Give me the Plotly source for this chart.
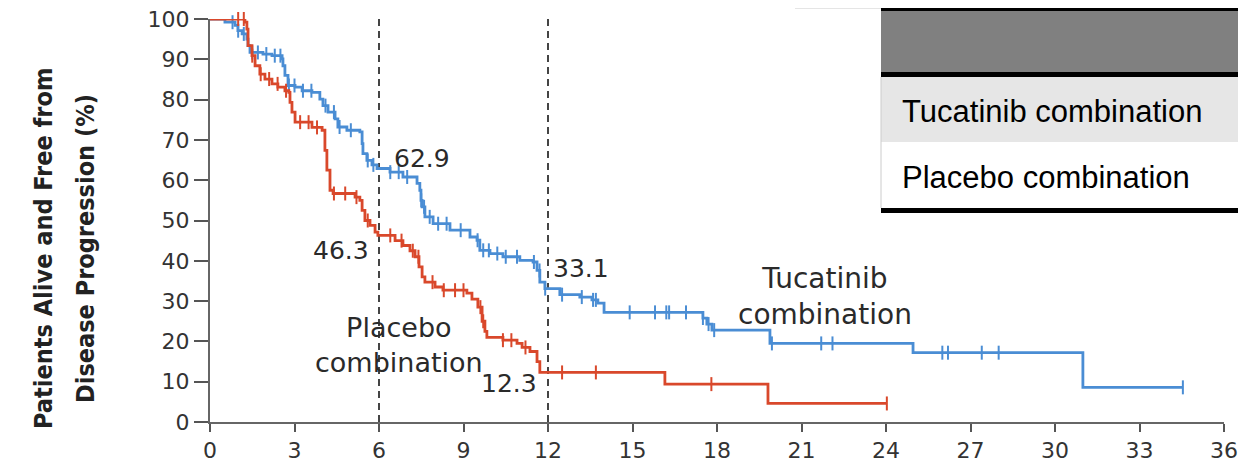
import numpy as np
import plotly.graph_objects as go

# ---------------- data ----------------
x_ticks = [0, 3, 6, 9, 12, 15, 18, 21, 24, 27, 30, 33, 36]
y_ticks = [0, 10, 20, 30, 40, 50, 60, 70, 80, 90, 100]

tuc_time = [0, 0.53, 0.89, 0.99, 1.14, 1.31, 1.35, 1.42, 1.88, 2.2,
            2.56, 2.59, 2.66, 2.77, 3.02, 3.27, 3.62, 3.9, 4.01, 4.19,
            4.44, 4.54, 4.86, 5.32, 5.4, 5.43, 5.57, 5.75, 5.93, 6.39,
            6.85, 7.35, 7.45, 7.49, 7.53, 7.63, 7.92, 8.52, 9.23, 9.48,
            9.58, 9.94, 10.4, 11.0, 11.47, 11.61, 11.71, 11.89, 12.42, 13.13,
            13.56, 13.77, 13.99, 17.5, 17.64, 17.82, 19.88, 24.96, 30.99, 34.54]
tuc_surv = [100, 99.2, 98.4, 97.1, 96.3, 95.0, 93.4, 91.7, 91.3, 90.9,
            90.1, 88.4, 86.0, 83.5, 83.1, 82.2, 81.8, 80.1, 78.5, 76.9,
            75.2, 73.2, 72.4, 72.0, 69.1, 66.6, 64.9, 63.8, 62.9, 62.0,
            60.8, 59.2, 57.5, 55.0, 53.4, 50.9, 49.2, 47.6, 45.9, 45.1,
            42.6, 41.8, 41.0, 40.1, 39.7, 37.6, 34.7, 33.1, 31.6, 31.0,
            30.3, 29.5, 27.2, 25.8, 24.3, 22.8, 19.5, 17.2, 8.6, 8.6]
tuc_censor = [0.8, 1.0, 1.2, 1.5, 1.7, 2.0, 2.3, 2.5, 2.8, 3.0, 3.3, 3.6,
              4.1, 4.4, 4.6, 5.0, 5.6, 5.8, 6.4, 6.7, 7.0, 7.5, 7.6, 7.8,
              8.1, 8.4, 8.9, 9.5, 9.7, 9.9, 10.2, 10.5, 10.9, 11.5, 11.7,
              11.9, 12.5, 13.2, 13.6, 13.7, 14.9, 15.8, 16.2, 16.3, 16.9,
              17.5, 17.7, 17.9, 19.95, 21.7, 22.1, 26.0, 26.2, 27.4, 28.0, 34.54]

pla_time = [0, 1.24, 1.31, 1.35, 1.49, 1.6, 1.77, 1.95, 2.2, 2.41,
            2.66, 2.8, 2.84, 2.91, 3.02, 3.62, 3.98, 4.08, 4.15, 4.26,
            4.37, 5.15, 5.32, 5.4, 5.5, 5.68, 5.86, 5.96, 6.57, 6.85,
            7.1, 7.28, 7.42, 7.53, 7.63, 7.99, 8.27, 9.12, 9.3, 9.51,
            9.66, 9.76, 9.83, 10.4, 10.9, 11.08, 11.36, 11.61, 11.71, 16.15,
            19.81, 24.03]
pla_surv = [100, 99.2, 97.5, 93.4, 90.9, 88.4, 86.3, 85.1, 83.9, 83.1,
            82.2, 81.8, 79.3, 76.9, 74.4, 73.1, 72.4, 67.4, 62.5, 57.5,
            56.7, 55.8, 55.0, 52.5, 50.0, 48.8, 47.1, 46.3, 45.0, 43.8,
            42.5, 41.0, 38.5, 36.0, 34.7, 33.5, 32.7, 32.0, 30.5, 28.5,
            25.0, 22.5, 21.0, 20.3, 19.5, 18.5, 17.5, 15.0, 12.3, 9.4,
            4.6, 4.6]
pla_censor = [1.0, 1.2, 1.5, 1.8, 2.1, 2.4, 2.7, 3.2, 3.5, 3.8, 4.4, 4.8,
              5.2, 5.6, 6.4, 6.8, 7.2, 7.4, 7.9, 8.3, 8.7, 9.0, 9.6, 9.7,
              10.4, 10.7, 11.2, 12.5, 13.7, 17.8, 24.03]

landmarks = [6, 12]
labels_pt = [("62.9", 6.46, 65.4, "left"), ("46.3", 5.72, 42.6, "right"),
             ("33.1", 12.1, 38.1, "left"), ("12.3", 11.68, 9.6, "right")]
arm_names = ["Tucatinib combination", "Placebo combination"]
ytitle_lines = ["Patients Alive and Free from", "Disease Progression (%)"]

BLUE = "#4a8dd4"
RED = "#d9482b"

def step_value(times, surv, c):
    i = np.searchsorted(np.array(times), c, side="right") - 1
    return surv[max(i, 0)]

fig = go.Figure()
for t, s, cens, col, name in [(tuc_time, tuc_surv, tuc_censor, BLUE, arm_names[0]),
                              (pla_time, pla_surv, pla_censor, RED, arm_names[1])]:
    fig.add_trace(go.Scatter(x=t, y=s, mode="lines", line=dict(color=col, width=2.8, shape="hv"),
                             name=name, showlegend=False, cliponaxis=False))
    fig.add_trace(go.Scatter(x=cens, y=[step_value(t, s, c) for c in cens], mode="markers",
                             marker=dict(symbol="line-ns-open", size=10, color=col,
                                         line=dict(color=col, width=2)),
                             showlegend=False, cliponaxis=False))

# landmark dashed lines
for lm in landmarks:
    fig.add_shape(type="line", xref="x", yref="y", x0=lm, x1=lm, y0=0, y1=100,
                  line=dict(color="#444444", width=2, dash="7px,5px"), layer="below")

ann_font = dict(family="DejaVu Sans", size=25, color="#2a2a2a")
for txt, xv, yv, anc in labels_pt:
    fig.add_annotation(x=xv, y=yv, xref="x", yref="y", text=txt, showarrow=False,
                       xanchor=anc, yanchor="middle", font=ann_font)
lab_font = dict(family="DejaVu Sans", size=27, color="#2a2a2a")
fig.add_annotation(x=6.72, y=19.2, xref="x", yref="y", text="Placebo<br>combination",
                   showarrow=False, xanchor="center", yanchor="middle", font=lab_font)
fig.add_annotation(x=21.83, y=31.2, xref="x", yref="y", text="Tucatinib<br>combination",
                   showarrow=False, xanchor="center", yanchor="middle", font=dict(lab_font, size=28))

# ---------- layout geometry (page has an 8px body margin) ----------
OFF = 8
W, H = 1246 - OFF, 465 - OFF
L, R, T, B = 210 - OFF, 1224 - OFF, 19 - OFF, 422 - OFF
def px(x):  # reference-picture pixel -> paper
    return (x - OFF - L) / (R - L)
def py(y):
    return (B - (y - OFF)) / (B - T)

# y-axis title (two rotated lines)
yt_font = dict(family="DejaVu Sans Condensed, DejaVu Sans, sans-serif",
               size=25, color="#222222", weight="bold")
for line_txt, xpix in zip(ytitle_lines, [43, 85]):
    fig.add_annotation(x=px(xpix), y=py(249), xref="paper", yref="paper", textangle=-90,
                       text=line_txt, showarrow=False, xanchor="center", yanchor="middle",
                       font=yt_font)

# table-like legend box (top right)
def rect(x0, y0, x1, y1, color):
    fig.add_shape(type="rect", xref="paper", yref="paper", x0=px(x0), x1=px(x1),
                  y0=py(y1), y1=py(y0), fillcolor=color, line=dict(width=0), layer="above")

rect(881, 10, 1250, 72, "#808080")
rect(881, 76, 1250, 142, "#e6e6e6")
rect(881, 142, 1250, 208, "#ffffff")
rect(881, 7, 1250, 11, "#000000")
rect(881, 72, 1250, 77, "#000000")
rect(881, 208, 1250, 213, "#000000")
fig.add_shape(type="line", xref="paper", yref="paper", x0=px(795), x1=px(881), y0=py(8), y1=py(8),
              line=dict(color="#cccccc", width=1))
fig.add_shape(type="line", xref="paper", yref="paper", x0=px(881), x1=px(881), y0=py(77), y1=py(208),
              line=dict(color="#cccccc", width=1))
tab_font = dict(family="Liberation Sans, Arial, sans-serif", size=31, color="#000000")
fig.add_annotation(x=px(900), y=py(111), xref="paper", yref="paper", text=arm_names[0],
                   showarrow=False, xanchor="left", yanchor="middle", font=tab_font)
fig.add_annotation(x=px(900), y=py(177), xref="paper", yref="paper", text=arm_names[1],
                   showarrow=False, xanchor="left", yanchor="middle", font=tab_font)

tick_font = dict(family="DejaVu Sans", size=22, color="#333333")
fig.update_layout(
    width=W, height=H,
    margin=dict(l=L, r=W - R, t=T, b=H - B, autoexpand=False),
    paper_bgcolor="white", plot_bgcolor="white",
    showlegend=False,
    xaxis=dict(range=[0, 36], tickvals=x_ticks, ticktext=[str(v) for v in x_ticks],
               showgrid=False, zeroline=False, showline=True, linecolor="#666666", linewidth=2,
               ticks="outside", ticklen=8, tickwidth=1.5, tickcolor="#555555",
               tickfont=tick_font, automargin=False, ticklabeloverflow="allow"),
    yaxis=dict(range=[0, 100], tickvals=y_ticks, ticktext=[str(v) for v in y_ticks],
               showgrid=False, zeroline=False, showline=True, linecolor="#666666", linewidth=2,
               ticks="outside", ticklen=14, tickwidth=1.5, tickcolor="#555555",
               tickfont=tick_font, automargin=False, ticklabeloverflow="allow"),
)

fig.write_html("out.html")
